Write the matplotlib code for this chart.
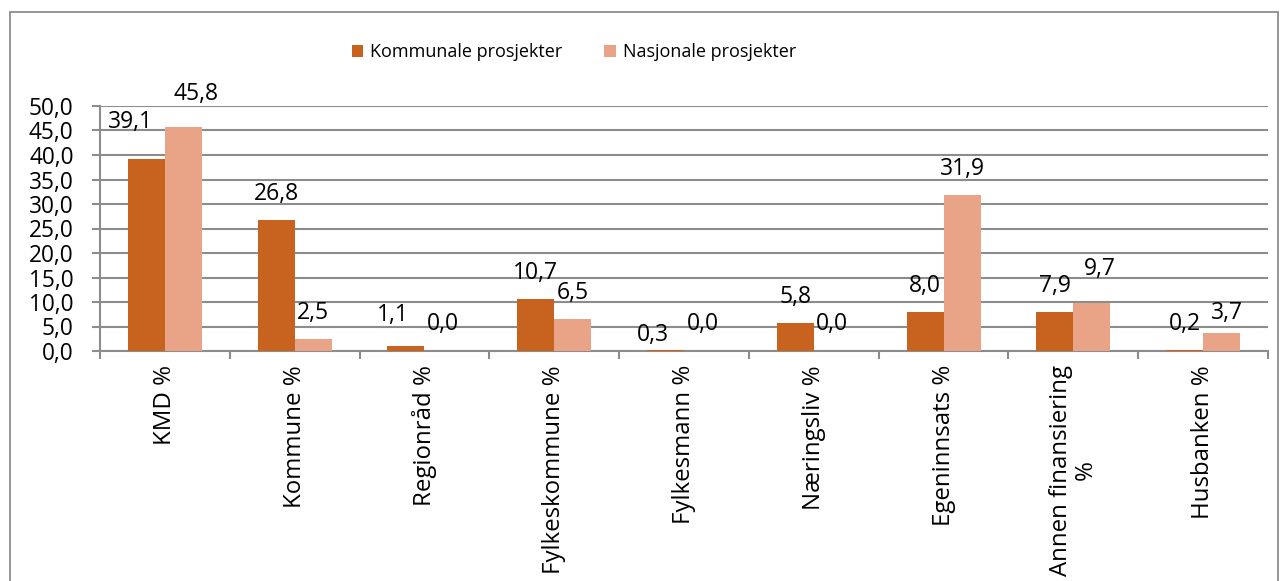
import matplotlib
matplotlib.use("Agg")
from matplotlib import pyplot as plt
from matplotlib.patches import Rectangle
import numpy as np

plt.rcParams['font.family'] = ['Open Sans', 'DejaVu Sans']

# data
categories = ["KMD %", "Kommune %", "Regionråd %", "Fylkeskommune %", "Fylkesmann %",
              "Næringsliv %", "Egeninnsats %", "Annen finansiering\n%", "Husbanken %"]
kommunale = [39.1, 26.8, 1.1, 10.7, 0.3, 5.8, 8.0, 7.9, 0.2]
nasjonale = [45.8, 2.5, 0.0, 6.5, 0.0, 0.0, 31.9, 9.7, 3.7]
series_names = ["Kommunale prosjekter", "Nasjonale prosjekter"]

dark = "#C8621F"
light = "#E9A488"
grid_col = "#8C8C8C"

# excel moved some of the data labels around, nudges in pixels (dx, dy)
nudge_k = {0: (-16, 11), 2: (-13, 5), 4: (-13, -11)}
nudge_n = {0: (13, 7), 2: (0, 1), 4: (0, 1), 5: (0, 1), 7: (8, 8), 8: (5, -6)}

fig = plt.figure(figsize=(12.85, 5.81), dpi=100)
ax = fig.add_axes([100/1285, 1 - 351/581, 1168/1285, 245/581])

# outer border like the excel chart area
fig.patches.append(Rectangle((10/1285, -0.01), 1268/1285, 1 - 12/581 + 0.01,
                             transform=fig.transFigure, fill=False,
                             edgecolor="#8C8C8C", linewidth=1.3))

x = np.arange(len(categories))
w = 0.285
b1 = ax.bar(x - w/2, kommunale, width=w, color=dark, label=series_names[0], zorder=3)
b2 = ax.bar(x + w/2, nasjonale, width=w, color=light, label=series_names[1], zorder=3)

fmt = lambda v: f"{v:.1f}".replace(".", ",")
for bars, vals, nudge in ((b1, kommunale, nudge_k), (b2, nasjonale, nudge_n)):
    for i, (r, v) in enumerate(zip(bars, vals)):
        dx, dy = nudge.get(i, (0, 0))
        ax.annotate(fmt(v), (r.get_x() + r.get_width()/2, v), xytext=(dx, 26 + dy),
                    textcoords="offset pixels", ha="center", va="center",
                    fontsize=16.5, zorder=4)

ax.set_xlim(-0.5, len(categories) - 0.5)
ax.set_ylim(0, 50)
ax.set_yticks(np.arange(0, 51, 5))
ax.set_yticklabels([fmt(v) for v in np.arange(0, 51, 5)], fontsize=16.3)
ax.yaxis.grid(True, color=grid_col, linewidth=1.5, zorder=0)
ax.tick_params(axis="y", length=6, color=grid_col, width=1.5, pad=13)

# category labels in the middle, tick marks on the boundaries
ax.set_xticks(x)
ax.set_xticklabels(categories, rotation=90, fontsize=17.3, ha="center", va="top",
                   multialignment="center", linespacing=1.0)
ax.tick_params(axis="x", length=0, pad=10)
ax.set_xticks(np.arange(-0.5, len(categories)), minor=True)
ax.tick_params(axis="x", which="minor", length=6, color=grid_col, width=1.5)

for s in ["top", "right"]:
    ax.spines[s].set_visible(False)
for s in ["left", "bottom"]:
    ax.spines[s].set_color(grid_col)
    ax.spines[s].set_linewidth(1.5)

fig.legend(handles=[b1, b2], labels=series_names, loc="center",
           bbox_to_anchor=(574/1285, 1 - 52/581), ncol=2, frameon=False,
           fontsize=13, handlelength=0.65, handleheight=0.65,
           columnspacing=2.3, handletextpad=0.4)

fig.savefig("out.png", dpi=100)
